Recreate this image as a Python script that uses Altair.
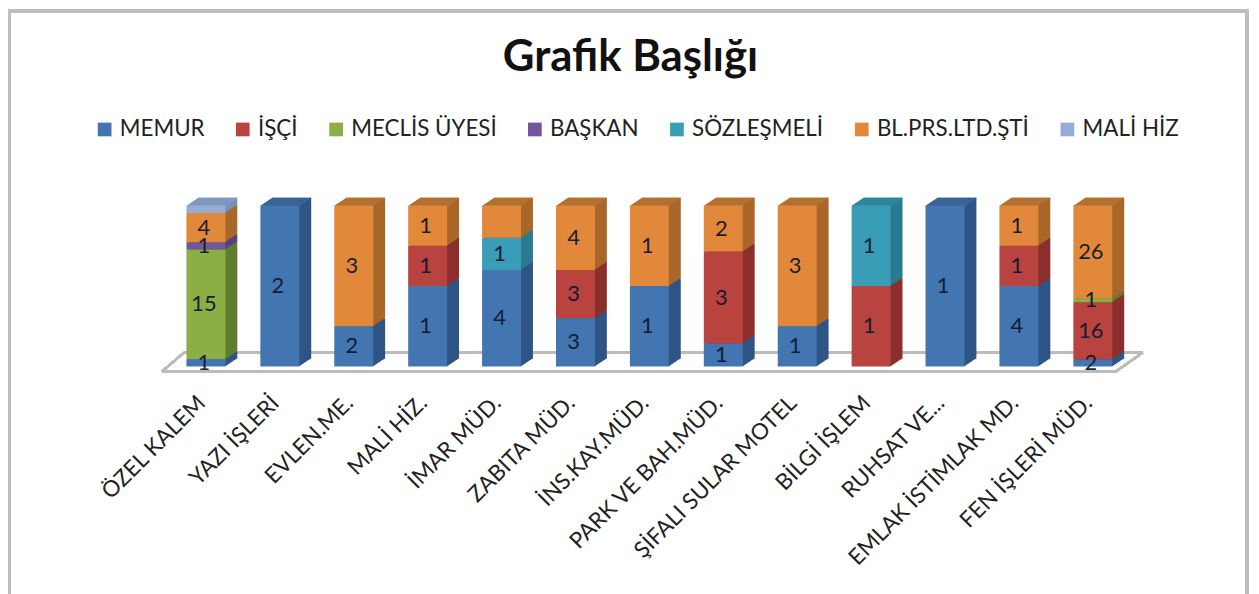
import altair as alt
import pandas as pd

categories = ["ÖZEL KALEM", "YAZI İŞLERİ", "EVLEN.ME.", "MALİ HİZ.", "İMAR MÜD.", "ZABITA MÜD.",
              "İNS.KAY.MÜD.", "PARK VE BAH.MÜD.", "ŞİFALI SULAR MOTEL", "BİLGİ İŞLEM",
              "RUHSAT VE...", "EMLAK İSTİMLAK MD.", "FEN İŞLERİ MÜD."]
series = ["MEMUR", "İŞÇİ", "MECLİS ÜYESİ", "BAŞKAN", "SÖZLEŞMELİ", "BL.PRS.LTD.ŞTİ", "MALİ HİZ"]

# segment sizes as read from the drawn heights
memur = [1, 2, 1, 2, 3, 3, 1, 1, 1, 0, 1, 2, 2]
isci = [0, 0, 0, 1, 0, 3, 0, 4, 0, 1, 0, 1, 16]
meclis = [15, 0, 0, 0, 0, 0, 0, 0, 0, 0, 0, 0, 1]
baskan = [1, 0, 0, 0, 0, 0, 0, 0, 0, 0, 0, 0, 0]
sozlesmeli = [0, 0, 0, 0, 1, 0, 0, 0, 0, 1, 0, 0, 0]
blprs = [4, 0, 3, 1, 1, 4, 1, 2, 3, 0, 0, 1, 26]
malihiz = [1, 0, 0, 0, 0, 0, 0, 0, 0, 0, 0, 0, 0]
heights = [memur, isci, meclis, baskan, sozlesmeli, blprs, malihiz]

# data labels as printed on the chart
memur_l = ["1", "2", "2", "1", "4", "3", "1", "1", "1", "", "1", "4", "2"]
isci_l = ["", "", "", "1", "", "3", "", "3", "", "1", "", "1", "16"]
meclis_l = ["15", "", "", "", "", "", "", "", "", "", "", "", "1"]
baskan_l = ["1", "", "", "", "", "", "", "", "", "", "", "", ""]
sozlesmeli_l = ["", "", "", "", "1", "", "", "", "", "1", "", "", ""]
blprs_l = ["4", "", "3", "1", "", "4", "1", "2", "3", "", "", "1", "26"]
malihiz_l = [""] * 13
labels = [memur_l, isci_l, meclis_l, baskan_l, sozlesmeli_l, blprs_l, malihiz_l]

front = ["#4376B0", "#B8433F", "#8DAD45", "#72579A", "#3A9DB8", "#E2883A", "#95ADD6"]
side = ["#2F5585", "#8C2F2D", "#5F7C30", "#55427A", "#2A7A91", "#A9672A", "#7A90B5"]
top = ["#38649A", "#A03A37", "#76933A", "#604A85", "#31869E", "#B5702F", "#7F98C0"]

rows = []
for ci, cat in enumerate(categories):
    total = sum(h[ci] for h in heights)
    acc = 0
    last = max(i for i, h in enumerate(heights) if h[ci] > 0)
    for si, s in enumerate(series):
        v = heights[si][ci]
        if v == 0:
            continue
        rows.append(dict(cat=cat, series=s, y0=acc / total, y1=(acc + v) / total,
                         mid=(acc + v / 2) / total, label=labels[si][ci],
                         side=side[si], top=top[si], is_top=si == last))
        acc += v
df = pd.DataFrame(rows)

W, H = 967, 162
PL, PT = 162, 197
TOTAL_W, TOTAL_H = 1251, 586
DEPTH = 12

xenc = alt.X("cat:N", sort=categories, scale=alt.Scale(paddingInner=0.473, paddingOuter=0.2365),
             axis=alt.Axis(title=None, labelAngle=-45, labelFont="Lato", labelFontSize=22.5,
                           labelColor="#222222", labelPadding=25, labelOffset=-12, labelLimit=400, ticks=False,
                           domain=False, grid=False, labelOverlap=False))
yscale = alt.Scale(domain=[0, 1])
yenc = alt.Y("y0:Q", scale=yscale, axis=None)

base = alt.Chart(df)
layers = []

# chart frame and floor
frame_color = "#BDBDBD"
layers.append(alt.Chart(df).mark_rect(fillOpacity=0, stroke=frame_color, strokeWidth=3).encode(
    x=alt.value(-PL + 1), x2=alt.value(TOTAL_W - PL - 4), y=alt.value(-PT + 1), y2=alt.value(TOTAL_H - PT + 4)))
floor = [(-7, 167, 953, 167), (15, 148, 980, 148), (-7, 167, 15, 148), (953, 167, 980, 148)]
for x1, y1, x2, y2 in floor:
    layers.append(alt.Chart(df).mark_rule(color="#BBBBBB", strokeWidth=2).encode(
        x=alt.value(x1), x2=alt.value(x2), y=alt.value(y1), y2=alt.value(y2)))

# extruded side faces and top faces
for k in range(DEPTH, 0, -1):
    off = -k * 8 / DEPTH
    layers.append(base.mark_bar(xOffset=k, yOffset=off, y2Offset=off).encode(
        x=xenc, y=yenc, y2="y1:Q", color=alt.Color("side:N", scale=None)))
for k in range(DEPTH, 0, -1):
    off = -k * 8 / DEPTH
    layers.append(base.transform_filter("datum.is_top").mark_bar(xOffset=k, yOffset=off, y2Offset=off).encode(
        x=xenc, y=alt.Y("y1:Q", scale=yscale, axis=None), y2=alt.Y2(datum=0.994), color=alt.Color("top:N", scale=None)))

# front faces with axis and legend
layers.append(base.mark_bar().encode(
    x=xenc, y=yenc, y2="y1:Q",
    color=alt.Color("series:N", scale=alt.Scale(domain=series, range=front),
                    legend=alt.Legend(title=None, orient="none", legendX=-76, legendY=-88,
                                      direction="horizontal", columns=7, symbolType="square",
                                      symbolSize=190, symbolStrokeWidth=0, labelFont="Lato", labelFontSize=22.5,
                                      labelColor="#222222", columnPadding=27, labelOffset=4, labelLimit=300))))

# data labels
layers.append(base.transform_filter("datum.label != ''").mark_text(
    font="Lato", fontSize=22, color="#101830", opacity=0.95, dx=-2).encode(
    x=xenc, y=alt.Y("mid:Q", scale=yscale, axis=None), text="label:N"))

chart = alt.layer(*layers).properties(
    width=W, height=H,
    autosize=alt.AutoSizeParams(type="none"),
    padding={"left": PL, "top": PT, "right": TOTAL_W - PL - W, "bottom": TOTAL_H - PT - H},
    title=alt.TitleParams("Grafik Başlığı", font="Lato", fontSize=44, fontWeight="bold", color="#111111",
                          anchor="middle", dx=-19, dy=75),
).configure_view(stroke=None)

chart.save("out.html", embed_options={"renderer": "svg", "actions": False})
